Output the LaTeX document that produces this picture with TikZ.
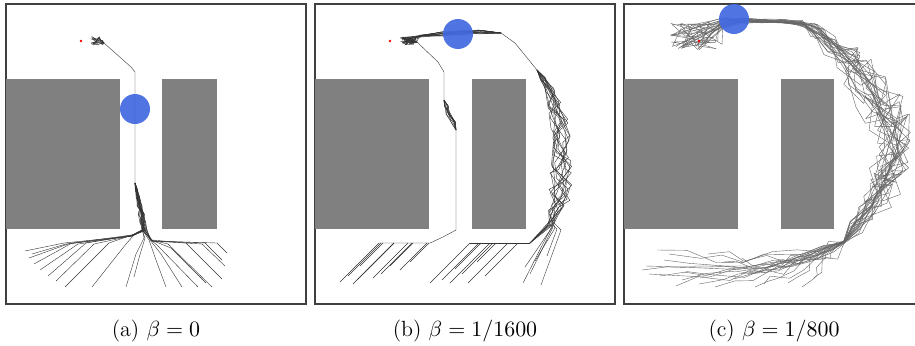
\documentclass[tikz,border=0pt]{standalone}
\definecolor{agentblue}{RGB}{65,105,225}
\definecolor{wallgray}{RGB}{128,128,128}
% waypoint/jitter lists for the detour round the right block in (b)
\newcommand\detourb{236/220/4, 241/205/9, 244/190/11, 246/175/11, 246/160/11,
  246/145/11, 245/130/11, 243/115/10, 239/100/8, 234/86/6, 228/75/3}
\begin{document}
\begin{tikzpicture}[
  x=0.5pt, y=-0.5pt,
  panelframe/.style={draw=black!75, line width=0.6pt},
  obstacle/.style={fill=wallgray},
  traj/.style={draw=black!80, line width=0.2pt, line join=round},
  agent/.style={fill=agentblue, fill opacity=0.92},
  target/.style={fill=red},
  caption/.style={font=\fontsize{11}{13}\selectfont, inner sep=0pt}
]
\useasboundingbox (0,0) rectangle (915,345);

% (a) beta = 0
\begin{scope}[shift={(6,4)}]
  \draw[panelframe] (0,0) rectangle (300,300);
  \fill[obstacle] (0,75) rectangle (114,225);
  \fill[obstacle] (156,75) rectangle (211,225);
  \pgfmathsetseed{7}
  \foreach \sx/\sy/\mx/\my/\kx/\ky in {19/247/58/239/126/232, 23/254/62/240/126/232,
      28/260/66/239/126/231, 34/266/72/240/125/232, 42/272/80/239/126/231,
      50/277/88/240/125/232, 26/250/60/240/126/232, 59/283/103/239/126/231,
      86/283/120/240/128/231, 120/283/130/250/138/234, 128/273/133/254/139/234,
      221/249/211/239/146/237, 219/262/196/240/146/237, 216/275/180/239/146/236,
      206/283/162/240/145/236, 192/283/152/242/145/236, 176/283/155/250/144/236,
      160/283/150/256/143/236, 216/256/199/239/146/237, 200/279/165/244/145/236}
    \draw[traj] (\sx,\sy) -- (\mx,\my) -- (\kx,\ky)
      \foreach \py/\a in {226/3, 218/3.5, 210/3, 202/2.5, 194/2, 186/1.2} { -- ({129+(\py-179)*0.2+\a*rand},\py) }
      -- (129,179);
  \draw[traj] (129,179) -- (129,68) -- (125,63) -- (98,39);
  \foreach \k in {1,...,12}
    \draw[traj] (98,39) -- ({92+5*rand},{37+4*rand}) -- ({89+5*rand},{36+4*rand}) -- ({90+5*rand},{37+4*rand});
  \fill[agent] (129,105) circle (7.5pt);
  \fill[target] (75,37) circle (0.7pt);
\end{scope}

% (b) beta = 1/1600
\begin{scope}[shift={(315,4)}]
  \draw[panelframe] (0,0) rectangle (300,300);
  \fill[obstacle] (0,75) rectangle (114,225);
  \fill[obstacle] (157,75) rectangle (211,225);
  \pgfmathsetseed{21}
  % through the middle corridor
  \foreach \sx/\sy in {25/278, 33/272, 42/276, 50/268, 58/274, 66/270, 75/262,
      85/266, 95/258, 45/262, 38/280}
    \draw[traj] (\sx,\sy) -- ({\sx+\sy-239},239);
  \draw[traj] (64,239) -- (115,239) -- (128,233) -- (141,226) -- (141,126);
  \foreach \k in {1,...,11}
    \draw[traj] (141,126)
      \foreach \px/\py/\a in {138/118/2.5, 134/110/3, 131/102/2.5} { -- ({\px+\a*rand},\py) }
      -- (129,96);
  \draw[traj] (129,96) -- (129,68) -- (123,58) -- (102,38);
  \foreach \k in {1,...,11}
    \draw[traj] (102,38) \foreach \j in {1,2,3} { -- ({93+8*rand},{37+4*rand}) };
  % round the right block
  \foreach \sx/\sy in {115/279, 127/276, 135/279, 153/279, 162/258, 147/270, 170/272, 140/265}
    \draw[traj] (\sx,\sy) -- ({\sx+\sy-239},239);
  \draw[traj] (155,239) -- (215,239);
  \foreach \k in {1,...,8}
    \draw[traj] (215,239) \foreach \px/\py/\a in \detourb { -- ({\px+\a*rand},{\py+0.6*\a*rand}) } -- (222,66);
  \foreach \sx/\sy/\kx/\ky in {208/279/236/224, 210/263/238/222, 220/257/240/224,
      232/252/242/225, 215/270/238/223, 226/281/246/226}
    \draw[traj] (\sx,\sy) -- (\kx,\ky)
      \foreach \px/\py/\a in \detourb { -- ({\px+\a*rand},{\py+0.6*\a*rand}) } -- (222,66);
  \draw[traj] (222,66) -- (200,39) -- (186,29);
  \foreach \k in {1,...,14}
    \draw[traj] (186,29)
      \foreach \px/\py/\a in {166/28/3.5, 146/29/4, 126/30/4, 106/32/2} { -- ({\px+\a*rand},{\py+0.6*\a*rand}) }
      \foreach \j in {1,2} { -- ({93+8*rand},{37+4*rand}) };
  \fill[agent] (143,30) circle (7.5pt);
  \fill[target] (75,37) circle (0.7pt);
\end{scope}

% (c) beta = 1/800
\begin{scope}[shift={(624,4)}, traj/.append style={draw=black!60}]
  \draw[panelframe] (291,0) -- (0,0) -- (0,300) -- (291,300);
  \fill[obstacle] (0,75) rectangle (114,225);
  \fill[obstacle] (157,75) rectangle (210,225);
  \pgfmathsetseed{5}
  \foreach \sx/\sy/\sg in {18/266/14, 33/246/12, 40/256/16, 58/276/8, 91/283/3,
      131/283/0, 164/279/0, 25/270/12, 70/262/14, 110/275/6, 150/268/4, 190/275/0,
      45/250/10, 100/258/10, 130/262/8, 178/283/0, 60/268/12, 84/250/10,
      22/262/16, 52/282/6, 118/254/12, 140/280/2, 75/280/10, 36/272/12}
    \draw[traj] (\sx,\sy)
      \foreach \t in {0.15,0.3,0.45,0.6,0.75,0.9}
        { -- ({\sx+(218-\sx)*\t+6*rand},{\sy+(239-\sy)*\t+\sg*sin(\t*180)+6*rand}) }
      -- ({220+rand},{238+rand})
      \foreach \px/\py/\a in {232/222/7, 243/206/12, 253/190/15, 262/174/17, 268/158/18,
          271/143/16, 268/126/18, 260/108/19, 249/90/19, 236/72/17, 222/56/14, 208/40/11,
          193/27/8, 178/19/3, 160/17/2, 140/17/2, 120/17/3, 100/19/6}
        { -- ({\px+\a*rand},{\py+\a*rand}) }
      \foreach \k in {1,2,3} { -- ({72+26*rand},{32+14*rand}) };
  \fill[agent] (110,15) circle (7.5pt);
  \fill[target] (75,37) circle (0.7pt);
\end{scope}

\node[caption] (capa) at (156,331) {(a) $\beta = 0$};
\node[caption] (capb) at (465,331) {(b) $\beta = 1/1600$};
\node[caption] (capc) at (774,331) {(c) $\beta = 1/800$};
\end{tikzpicture}
\end{document}
